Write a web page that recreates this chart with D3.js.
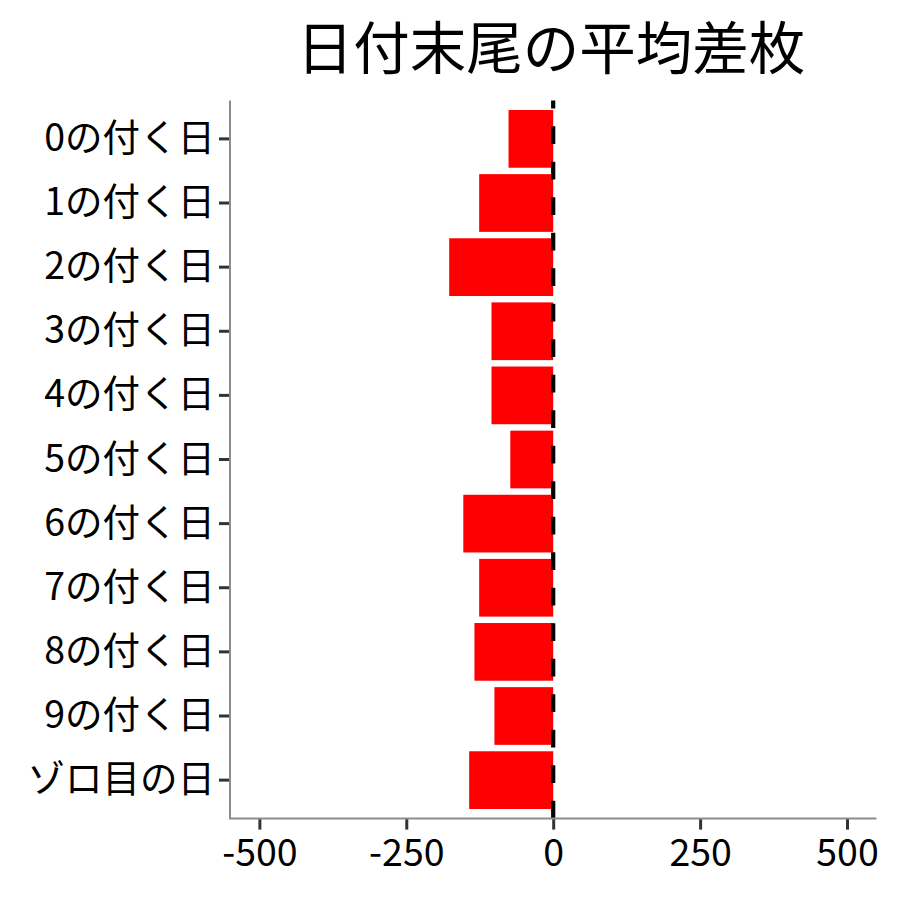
<!DOCTYPE html>
<html>
<head>
<meta charset="utf-8">
<script src="https://cdn.jsdelivr.net/npm/d3@7"></script>
<style>
	body { margin: 0; background: #fff; }
	svg { display: block; }
</style>
</head>
<body>
<div class="bar-chart"></div>
<script>
// Average difference per day-of-month ending.
var categories = ['0の付く日', '1の付く日', '2の付く日', '3の付く日', '4の付く日',
	'5の付く日', '6の付く日', '7の付く日', '8の付く日', '9の付く日', 'ゾロ目の日'];
var values = [-76, -126, -177, -105, -105, -73, -153, -126, -134, -100, -143];
var xTicks = [-500, -250, 0, 250, 500];
var titleText = '日付末尾の平均差枚';

var fontFamily = '"Noto Sans CJK JP", "Noto Sans", sans-serif',
	barColor = '#ff0000',
	axisLineColor = '#8c8c8c',
	tickColor = '#333333',
	labelSize = '37.5px';

var width = 900, height = 900;
var panel = {left: 230, right: 876.4, top: 100.4, bottom: 818.6};

var svg = d3.select('.bar-chart').append('svg')
	.attr('width', width)
	.attr('height', height)
	.attr('font-family', fontFamily);

var x = d3.scaleLinear().domain([-550, 550]).range([panel.left, panel.right]);
var y = d3.scaleBand()
	.domain(categories)
	.range([panel.top, panel.bottom])
	.paddingInner(0.1)
	.paddingOuter(0.15);

// Bars
svg.append('g').selectAll('rect')
	.data(values)
	.enter().append('rect')
		.attr('x', function(d) { return x(Math.min(0, d)); })
		.attr('y', function(d, i) { return y(categories[i]); })
		.attr('width', function(d) { return Math.abs(x(d) - x(0)); })
		.attr('height', y.bandwidth())
		.attr('fill', barColor);

// Dashed zero line, drawn from the bottom up like the original.
svg.append('line')
	.attr('x1', x(0)).attr('x2', x(0))
	.attr('y1', panel.bottom).attr('y2', panel.top)
	.attr('stroke', '#000')
	.attr('stroke-width', 4.2)
	.attr('stroke-dasharray', '17.75 17.75');

// Axes
var yAxis = svg.append('g')
	.attr('transform', 'translate(' + panel.left + ',0)')
	.call(d3.axisLeft(y).tickSize(11).tickPadding(4));
var xAxis = svg.append('g')
	.attr('transform', 'translate(0,' + panel.bottom + ')')
	.call(d3.axisBottom(x).tickValues(xTicks).tickSize(11).tickPadding(10)
		.tickFormat(function(d) { return d; }));

[xAxis, yAxis].forEach(function(g) {
	g.select('.domain').remove();
	g.selectAll('.tick line')
		.attr('stroke', tickColor)
		.attr('stroke-width', 3);
	g.selectAll('.tick text')
		.attr('fill', '#000')
		.attr('font-size', labelSize)
		.attr('font-family', fontFamily);
});

// Axis lines (L-shaped frame)
svg.append('path')
	.attr('d', 'M' + panel.left + ',' + panel.top + 'V' + panel.bottom + 'H' + panel.right)
	.attr('fill', 'none')
	.attr('stroke', axisLineColor)
	.attr('stroke-width', 2);

// Title
svg.append('text')
	.attr('x', 551)
	.attr('y', 69)
	.attr('text-anchor', 'middle')
	.attr('font-size', '56.5px')
	.attr('fill', '#000')
	.text(titleText);
</script>
</body>
</html>
